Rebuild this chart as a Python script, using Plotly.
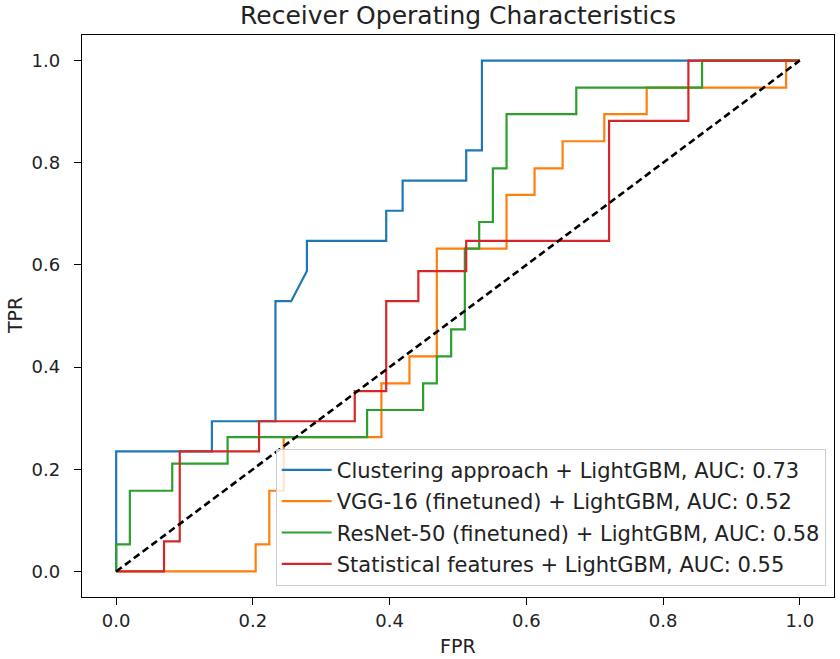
import plotly.graph_objects as go

# ROC corner points
clust_fpr = [0, 0, 0.140, 0.140, 0.233, 0.233, 0.256, 0.279, 0.279, 0.395, 0.395, 0.419, 0.419, 0.512, 0.512, 0.535, 0.535, 1.0]
clust_tpr = [0, 0.235, 0.235, 0.294, 0.294, 0.529, 0.529, 0.588, 0.647, 0.647, 0.706, 0.706, 0.765, 0.765, 0.824, 0.824, 1.0, 1.0]

vgg_fpr = [0, 0.204, 0.204, 0.224, 0.224, 0.245, 0.245, 0.388, 0.388, 0.429, 0.429, 0.469, 0.469, 0.571, 0.571,
           0.612, 0.612, 0.653, 0.653, 0.714, 0.714, 0.776, 0.776, 0.980, 0.980, 1.0]
vgg_tpr = [0, 0, 0.053, 0.053, 0.158, 0.158, 0.263, 0.263, 0.368, 0.368, 0.421, 0.421, 0.632, 0.632, 0.737,
           0.737, 0.789, 0.789, 0.842, 0.842, 0.895, 0.895, 0.947, 0.947, 1.0, 1.0]

resnet_fpr = [0, 0, 0.020, 0.020, 0.082, 0.082, 0.163, 0.163, 0.367, 0.367, 0.449, 0.449, 0.469, 0.469, 0.490,
              0.490, 0.510, 0.510, 0.531, 0.531, 0.551, 0.551, 0.571, 0.571, 0.673, 0.673, 0.857, 0.857, 1.0]
resnet_tpr = [0, 0.053, 0.053, 0.158, 0.158, 0.211, 0.211, 0.263, 0.263, 0.316, 0.316, 0.368, 0.368, 0.421, 0.421,
              0.474, 0.474, 0.632, 0.632, 0.684, 0.684, 0.789, 0.789, 0.895, 0.895, 0.947, 0.947, 1.0, 1.0]

stat_fpr = [0, 0.070, 0.070, 0.093, 0.093, 0.209, 0.209, 0.349, 0.349, 0.395, 0.395, 0.442, 0.442, 0.512, 0.512,
            0.721, 0.721, 0.837, 0.837, 1.0]
stat_tpr = [0, 0, 0.059, 0.059, 0.235, 0.235, 0.294, 0.294, 0.353, 0.353, 0.529, 0.529, 0.588, 0.588, 0.647,
            0.647, 0.882, 0.882, 1.0, 1.0]

labels = [
    "Clustering approach + LightGBM, AUC: 0.73",
    "VGG-16 (finetuned) + LightGBM, AUC: 0.52",
    "ResNet-50 (finetuned) + LightGBM, AUC: 0.58",
    "Statistical features + LightGBM, AUC: 0.55",
]
colors = ["#1f77b4", "#ff7f0e", "#2ca02c", "#d62728"]
diag = [0, 1]
ticks = [0.0, 0.2, 0.4, 0.6, 0.8, 1.0]
tick_text = ["0.0", "0.2", "0.4", "0.6", "0.8", "1.0"]

FONT = "DejaVu Sans"
TXT = "#222"

fig = go.Figure()
series = [(clust_fpr, clust_tpr), (vgg_fpr, vgg_tpr), (resnet_fpr, resnet_tpr), (stat_fpr, stat_tpr)]
for i, ((fx, ty), lab, col) in enumerate(zip(series, labels, colors)):
    fig.add_trace(go.Scatter(x=fx, y=ty, mode="lines", name=lab, legendgroup=f"g{i}",
                             line=dict(color=col, width=2.2)))
fig.add_trace(go.Scatter(x=diag, y=diag, mode="lines", showlegend=False,
                         line=dict(color="black", width=2.6, dash="7px,4px")))

axis_common = dict(
    showline=True, linecolor="black", linewidth=1.3, mirror=True,
    showgrid=False, zeroline=False, automargin=False,
    ticks="outside", ticklen=7, tickwidth=1.3, tickcolor="black",
    tickvals=ticks, ticktext=tick_text,
    tickfont=dict(family=FONT, size=18, color=TXT),
    range=[-0.05, 1.05],
)
fig.update_xaxes(ticklabelstandoff=0, **axis_common)
fig.update_yaxes(ticklabelstandoff=10, **axis_common)

fig.update_layout(
    width=840, height=659,
    margin=dict(l=82, r=6, t=35, b=62),
    paper_bgcolor="white", plot_bgcolor="white",
    title=dict(text="Receiver Operating Characteristics", x=0.5, xref="paper", xanchor="center",
               y=1 - 15 / 659, yref="container", yanchor="middle",
               font=dict(family=FONT, size=25, color=TXT)),
    legend=dict(x=0.989, y=0.02, xanchor="right", yanchor="bottom",
                bgcolor="rgba(255,255,255,0.8)", bordercolor="#cccccc", borderwidth=1,
                font=dict(family=FONT, size=21, color=TXT),
                tracegroupgap=1, itemwidth=50),
    annotations=[
        dict(text="FPR", xref="paper", yref="paper", x=0.5, y=0, xanchor="center", yanchor="middle",
             yshift=-49, showarrow=False, font=dict(family=FONT, size=19, color=TXT)),
        dict(text="TPR", xref="paper", yref="paper", x=0, y=0.5, xanchor="center", yanchor="middle",
             xshift=-67, textangle=-90, showarrow=False, font=dict(family=FONT, size=19, color=TXT)),
    ],
)

fig.write_html("out.html", config={"displayModeBar": False},
               post_script="document.body.style.margin='0';")
